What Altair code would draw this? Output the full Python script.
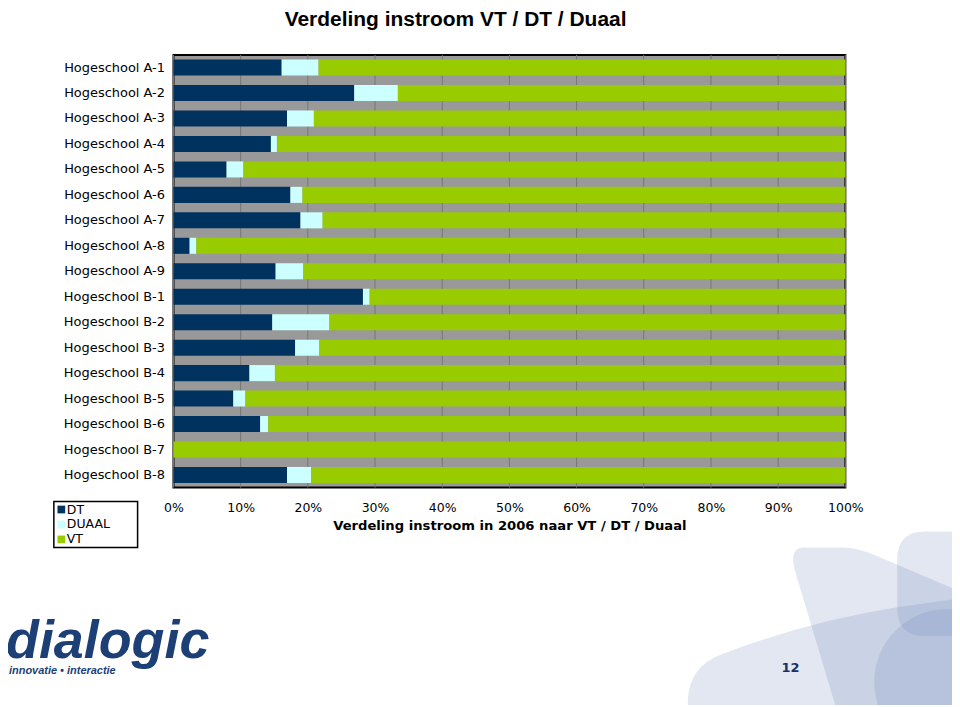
import altair as alt
import pandas as pd

# ---- data ----
schools = ["Hogeschool A-1", "Hogeschool A-2", "Hogeschool A-3", "Hogeschool A-4",
           "Hogeschool A-5", "Hogeschool A-6", "Hogeschool A-7", "Hogeschool A-8",
           "Hogeschool A-9", "Hogeschool B-1", "Hogeschool B-2", "Hogeschool B-3",
           "Hogeschool B-4", "Hogeschool B-5", "Hogeschool B-6", "Hogeschool B-7",
           "Hogeschool B-8"]
types = ["DT", "DUAAL", "VT"]
dt = [16.1, 26.9, 16.9, 14.5, 7.9, 17.4, 18.9, 2.4, 15.2, 28.2, 14.7, 18.1, 11.3, 8.9, 12.9, 0.0, 16.9]
duaal = [5.5, 6.5, 4.0, 0.9, 2.5, 1.8, 3.3, 1.0, 4.1, 1.0, 8.5, 3.6, 3.8, 1.8, 1.2, 0.0, 3.6]
vt = [round(100 - a - b, 1) for a, b in zip(dt, duaal)]
colors = ["#00325f", "#ccffff", "#99cc00"]
x_ticks = [0, 10, 20, 30, 40, 50, 60, 70, 80, 90, 100]

rows = []
for i, s in enumerate(schools):
    for k, (t, v) in enumerate(zip(types, [dt[i], duaal[i], vt[i]])):
        rows.append({"school": s, "type": t, "value": v, "ord": k})
df = pd.DataFrame(rows)
legend_df = pd.DataFrame({"type": types})

W, H = 674, 434
LEFT, TOP = 166, 46   # plot origin on page = (8+LEFT, 8+TOP) = (174, 54)
OX, OY = 174, 54

# ---- decorations (page coordinates) ----
def deco_layer(cmds, fill="#6f87b8", opacity=0.2):
    nums = [c for c in cmds if not isinstance(c, str)]
    xs = nums[0::2]
    ys = nums[1::2]
    cx = (min(xs) + max(xs)) / 2
    cy = (min(ys) + max(ys)) / 2
    h = max(max(xs) - min(xs), max(ys) - min(ys)) / 2
    out = []
    toggle = 0
    for c in cmds:
        if isinstance(c, str):
            out.append(c)
            toggle = 0
        else:
            if toggle % 2 == 0:
                out.append(f"{(c - cx) / h:.4f}")
            else:
                out.append(f"{(c - cy) / h:.4f}")
            toggle += 1
    path = " ".join(out)
    return alt.Chart(pd.DataFrame({"d": [0]})).mark_point(
        shape=path, filled=True, fill=fill, opacity=opacity, strokeWidth=0,
        size=(2 * h) ** 2
    ).encode(x=alt.value(cx - OX), y=alt.value(cy - OY))

sq = ["M", 928, 532, "L", 1000, 532, "L", 1000, 637, "L", 928, 637,
      "Q", 900, 637, 900, 609, "L", 900, 560, "Q", 900, 532, 928, 532, "Z"]
leaf = ["M", 806, 548, "L", 845, 548, "Q", 860, 548, 878, 556, "L", 1000, 608,
        "L", 1000, 720, "L", 842, 720, "L", 797, 570, "Q", 792, 548, 806, 548, "Z"]
sweep = ["M", 690, 720, "L", 690, 700, "Q", 692, 668, 722, 656, "Q", 810, 622, 900, 608,
         "L", 1000, 594, "L", 1000, 720, "Z"]

decos = [deco_layer(p) for p in (sq, leaf, sweep)]
decos.append(alt.Chart(pd.DataFrame({"d": [0]})).mark_point(
    shape="circle", filled=True, fill="#6f87b8", opacity=0.2, strokeWidth=0,
    size=146 ** 2).encode(x=alt.value(950 - OX), y=alt.value(683 - OY)))

xscale = alt.Scale(domain=[0, 100], nice=False)
xaxis = alt.Axis(values=x_ticks, labelExpr="datum.value + '%'",
                 grid=False, domain=False, ticks=False, labelFlush=False,
                 labelOverlap=False, labelPadding=14, labelFont="DejaVu Sans",
                 labelFontSize=12.5, labelColor="#000000",
                 title="Verdeling instroom in 2006 naar VT / DT / Duaal",
                 titleFont="DejaVu Sans", titleFontSize=13.2, titleFontWeight="bold",
                 titleColor="#000000", titlePadding=6)
color_scale = alt.Scale(domain=types, range=colors)

grid = alt.Chart(pd.DataFrame({"v": x_ticks})).mark_rule(color="#767676", strokeWidth=1).encode(
    x=alt.X("v:Q", scale=xscale, axis=xaxis)
)

# ---- bars ----
bars = alt.Chart(df).mark_bar().encode(
    x=alt.X("value:Q", stack="zero", scale=xscale, axis=xaxis),
    y=alt.Y("school:N", sort=schools,
            scale=alt.Scale(paddingInner=0.37, paddingOuter=0.18),
            axis=alt.Axis(title=None, ticks=False, domain=False, grid=False,
                          labelPadding=9, labelFont="DejaVu Sans", labelFontSize=13,
                          labelColor="#000000")),
    color=alt.Color("type:N", scale=color_scale, legend=None),
    order=alt.Order("ord:Q"),
)

one = pd.DataFrame({"d": [0]})

# ---- legend (boxed, bottom-left) ----
leg_box = alt.Chart(one).mark_rect(fill="#ffffff", stroke="#000000", strokeWidth=1.5).encode(
    x=alt.value(54 - OX), x2=alt.value(138 - OX), y=alt.value(502 - OY), y2=alt.value(548 - OY))
leg_y = alt.Y("type:N", sort=types, axis=None,
              scale=alt.Scale(domain=types, range=[510 - OY, 540 - OY], padding=0))
leg_sym = alt.Chart(legend_df).mark_square(size=60, opacity=1, strokeWidth=0).encode(
    x=alt.value(61.5 - OX), y=leg_y, color=alt.Color("type:N", scale=color_scale, legend=None))
leg_txt = alt.Chart(legend_df).mark_text(align="left", baseline="middle", font="DejaVu Sans",
                                         fontSize=12.5, color="#000000").encode(
    x=alt.value(67 - OX), y=leg_y, text="type:N")

title = alt.Chart(one).mark_text(text="Verdeling instroom VT / DT / Duaal", font="Liberation Sans",
                                 fontSize=21, fontWeight="bold", color="#000000",
                                 align="center", baseline="middle").encode(
    x=alt.value(457 - OX), y=alt.value(19 - OY))
logo = alt.Chart(one).mark_text(text="dialogic", font="Liberation Sans", fontSize=54,
                                fontWeight="bold", fontStyle="italic", color="#1c3f76",
                                align="left", baseline="alphabetic").encode(
    x=alt.value(6 - OX), y=alt.value(659 - OY))
tag = alt.Chart(one).mark_text(text="innovatie \u2022 interactie", font="Liberation Sans", fontSize=11,
                               fontWeight="bold", fontStyle="italic", color="#1c3f76",
                               align="left", baseline="middle").encode(
    x=alt.value(9 - OX), y=alt.value(672 - OY))
page = alt.Chart(one).mark_text(text="12", font="DejaVu Sans", fontSize=13,
                                fontWeight="bold", color="#1c3060",
                                align="center", baseline="middle").encode(
    x=alt.value(793 - OX), y=alt.value(669 - OY))

chart = alt.layer(*decos, grid, bars, leg_box, leg_sym, leg_txt, title, logo, tag, page).resolve_scale(
    y="independent"
).properties(
    width=W, height=H,
    padding={"left": LEFT, "top": TOP, "right": 107, "bottom": 217},
    autosize=alt.AutoSizeParams(type="none"),
    background="#ffffff",
).configure_view(stroke="#000000", strokeWidth=2, fill="#999999")

chart.save("out.html", embed_options={"renderer": "svg", "actions": False})
